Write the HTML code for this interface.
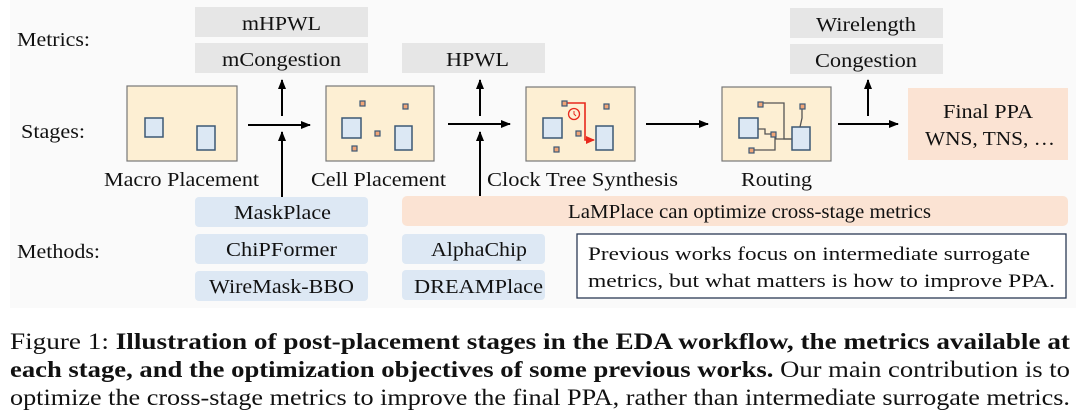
<!DOCTYPE html>
<html><head><meta charset="utf-8"><style>
html,body{margin:0;padding:0;background:#fff;}
svg{display:block;}
text{font-family:"Liberation Serif","Times New Roman",Times,serif;}
</style></head><body>
<svg width="1080" height="418" viewBox="0 0 1080 418" xmlns="http://www.w3.org/2000/svg" font-family="Liberation Serif, Times New Roman, serif">
<defs>
<marker id="ah" markerWidth="10" markerHeight="8" refX="9" refY="4" orient="auto" markerUnits="userSpaceOnUse"><path d="M0,0 L10,4 L0,8 z" fill="#000"/></marker>
<marker id="rh" markerWidth="9" markerHeight="8" refX="8" refY="4" orient="auto" markerUnits="userSpaceOnUse"><path d="M0,0 L9,4 L0,8 z" fill="#e8281c"/></marker>
</defs>
<rect x="10" y="0" width="1066" height="308" fill="#fafafa"/>
<g font-size="20" fill="#111" lengthAdjust="spacingAndGlyphs">
<text x="17" y="46" textLength="73" lengthAdjust="spacingAndGlyphs">Metrics:</text>
<text x="21" y="138" textLength="64" lengthAdjust="spacingAndGlyphs">Stages:</text>
<text x="17" y="258" textLength="83" lengthAdjust="spacingAndGlyphs">Methods:</text>
</g>
<g fill="#e6e6e6">
<rect x="195" y="7" width="173" height="30"/>
<rect x="195" y="43" width="173" height="30"/>
<rect x="402" y="43" width="143" height="30"/>
<rect x="790" y="8" width="153" height="30"/>
<rect x="790" y="44" width="153" height="30"/>
</g>
<g font-size="20" fill="#111">
<text x="242" y="30" textLength="79" lengthAdjust="spacingAndGlyphs">mHPWL</text>
<text x="222" y="66" textLength="119" lengthAdjust="spacingAndGlyphs">mCongestion</text>
<text x="446" y="66" textLength="63" lengthAdjust="spacingAndGlyphs">HPWL</text>
<text x="816" y="31" textLength="100" lengthAdjust="spacingAndGlyphs">Wirelength</text>
<text x="815" y="67" textLength="102" lengthAdjust="spacingAndGlyphs">Congestion</text>
</g>
<g fill="#fdefd3" stroke="#777" stroke-width="1.2">
<rect x="127" y="86" width="110" height="75"/>
<rect x="326" y="86" width="108" height="75"/>
<rect x="526" y="87" width="109" height="74"/>
<rect x="722" y="87" width="109" height="74"/>
</g>
<rect x="908" y="88" width="160" height="72" fill="#fbe3d3"/>
<g font-size="20" fill="#111">
<text x="943" y="118" textLength="90" lengthAdjust="spacingAndGlyphs">Final PPA</text>
<text x="925" y="145" textLength="130" lengthAdjust="spacingAndGlyphs">WNS, TNS, …</text>
<text x="104" y="186" textLength="155" lengthAdjust="spacingAndGlyphs">Macro Placement</text>
<text x="311" y="186" textLength="135" lengthAdjust="spacingAndGlyphs">Cell Placement</text>
<text x="487" y="186" textLength="191" lengthAdjust="spacingAndGlyphs">Clock Tree Synthesis</text>
<text x="741" y="186" textLength="71" lengthAdjust="spacingAndGlyphs">Routing</text>
</g>
<g fill="#dce8f4" stroke="#3d5875" stroke-width="1.5">
<rect x="145" y="118" width="18" height="19"/><rect x="197" y="126" width="18" height="24"/>
<rect x="342" y="118" width="19" height="20"/><rect x="395" y="126" width="17" height="24"/>
<rect x="543" y="118" width="19" height="20"/><rect x="596" y="126" width="17" height="24"/>
<rect x="739" y="118" width="19" height="20"/><rect x="792" y="127" width="18" height="23"/>
</g>
<g fill="none" stroke="#555" stroke-width="1.3">
<polyline points="763,103 784,103 784,139 792,139"/>
<polyline points="802,109 802,118 800,127"/>
<polyline points="758,129 765,129 765,134 771,134"/>
<polyline points="775,134 776,139 792,139"/>
<polyline points="754,150 775,150 775,137"/>
</g>
<polyline points="566,103 585,103 585,140 594,140" fill="none" stroke="#e8281c" stroke-width="1.6" marker-end="url(#rh)"/>
<circle cx="574" cy="114" r="5.5" fill="#fdefd3" stroke="#e8281c" stroke-width="1.3"/>
<path d="M574,111 L574,114 L576,116" stroke="#e8281c" fill="none" stroke-width="1"/>
<g fill="#f0a577" stroke="#3d5875" stroke-width="1.2">
<rect x="360" y="101" width="5" height="5"/><rect x="403" y="104" width="5" height="5"/><rect x="375" y="131" width="5" height="5"/><rect x="352" y="146" width="5" height="5"/>
<rect x="562" y="101" width="5" height="5"/><rect x="604" y="104" width="5" height="5"/><rect x="576" y="131" width="5" height="5"/><rect x="554" y="147" width="5" height="5"/>
<rect x="758" y="102" width="5" height="5"/><rect x="800" y="104" width="5" height="5"/><rect x="771" y="132" width="5" height="5"/><rect x="749" y="148" width="5" height="5"/>
</g>
<g stroke="#000" stroke-width="2" fill="none" marker-end="url(#ah)">
<line x1="248" y1="125" x2="310" y2="125"/>
<line x1="448" y1="124" x2="510" y2="124"/>
<line x1="646" y1="124" x2="708" y2="124"/>
<line x1="838" y1="124" x2="898" y2="124"/>
<line x1="282" y1="116" x2="282" y2="80"/>
<line x1="282" y1="198" x2="282" y2="132"/>
<line x1="480" y1="116" x2="480" y2="80"/>
<line x1="480" y1="196" x2="480" y2="132"/>
<line x1="868" y1="116" x2="868" y2="80"/>
</g>
<g fill="#dde8f4">
<rect x="195" y="197" width="173" height="30" rx="4"/>
<rect x="195" y="234" width="173" height="30" rx="4"/>
<rect x="195" y="271" width="173" height="30" rx="4"/>
<rect x="402" y="234" width="143" height="30" rx="4"/>
<rect x="402" y="270" width="143" height="30" rx="4"/>
</g>
<rect x="402" y="196" width="666" height="30" rx="5" fill="#fbe3d3"/>
<rect x="577" y="234" width="489" height="64" fill="#fff" stroke="#2b3a55" stroke-width="1.3"/>
<g font-size="20" fill="#111">
<text x="234" y="219" textLength="97" lengthAdjust="spacingAndGlyphs">MaskPlace</text>
<text x="226" y="256" textLength="111" lengthAdjust="spacingAndGlyphs">ChiPFormer</text>
<text x="209" y="293" textLength="145" lengthAdjust="spacingAndGlyphs">WireMask-BBO</text>
<text x="431" y="256" textLength="96" lengthAdjust="spacingAndGlyphs">AlphaChip</text>
<text x="414" y="293" textLength="129" lengthAdjust="spacingAndGlyphs">DREAMPlace</text>
<text x="568" y="218" textLength="363" lengthAdjust="spacingAndGlyphs">LaMPlace can optimize cross-stage metrics</text>
</g>
<g font-size="19" fill="#111">
<text x="588" y="260" textLength="442" lengthAdjust="spacingAndGlyphs">Previous works focus on intermediate surrogate</text>
<text x="588" y="287" textLength="467" lengthAdjust="spacingAndGlyphs">metrics, but what matters is how to improve PPA.</text>
</g>
<g font-size="23" fill="#111">
<text x="10" y="349" textLength="1060" lengthAdjust="spacingAndGlyphs">Figure 1: <tspan font-weight="bold">Illustration of post-placement stages in the EDA workflow, the metrics available at</tspan></text>
<text x="10" y="377" textLength="1060" lengthAdjust="spacingAndGlyphs"><tspan font-weight="bold">each stage, and the optimization objectives of some previous works.</tspan> Our main contribution is to</text>
<text x="10" y="405" textLength="1060" lengthAdjust="spacingAndGlyphs">optimize the cross-stage metrics to improve the final PPA, rather than intermediate surrogate metrics.</text>
</g>
</svg>
</body></html>
